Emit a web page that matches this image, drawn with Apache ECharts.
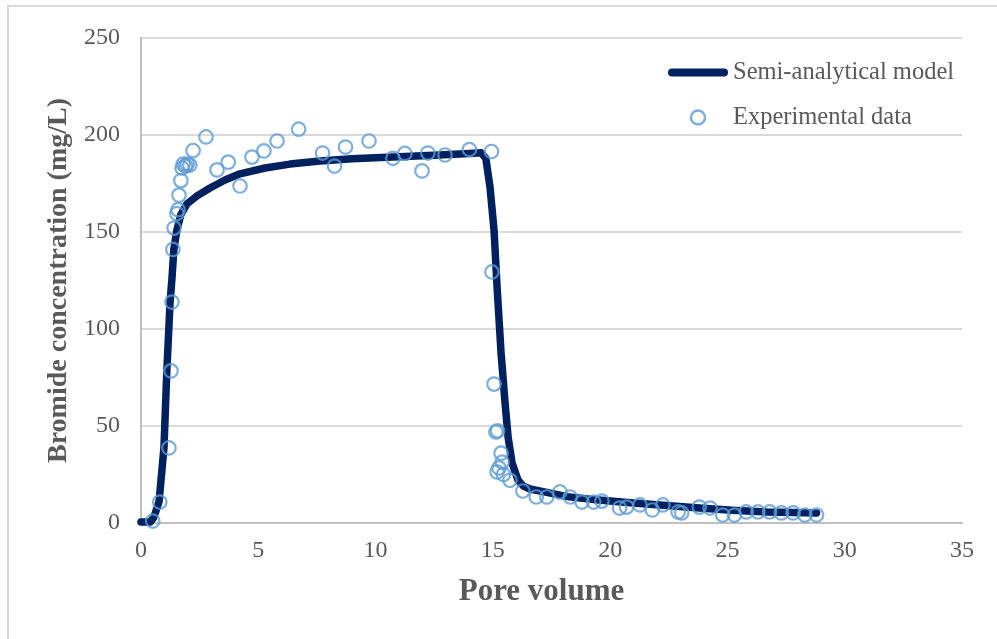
<!DOCTYPE html>
<html>
<head>
<meta charset="utf-8">
<script src="https://cdn.jsdelivr.net/npm/echarts@6/dist/echarts.min.js"></script>
<style>
html,body{margin:0;padding:0;background:#fff;}
#chart{width:997px;height:639px;}
</style>
</head>
<body>
<div id="chart"></div>
<script>
// Axis ticks
var xTicks = [0, 5, 10, 15, 20, 25, 30, 35];
var yTicks = [0, 50, 100, 150, 200, 250];

// Semi-analytical model curve
var modelX = [0, 0.4, 0.55, 0.77, 0.98, 1.1, 1.24, 1.32, 1.4, 1.53, 1.7, 1.96, 2.39, 2.94, 3.58, 4.22, 5.29, 6.35, 7.63, 9, 10.74, 12.5, 14, 14.5, 14.7, 14.88, 15.05, 15.18, 15.35, 15.52, 15.65, 15.82, 16.07, 16.3, 16.58, 17.3, 18.16, 19.5, 21, 22.4, 23.8, 25.2, 26.7, 28.8];
var modelY = [0.5, 0.5, 3, 11, 39, 78, 114, 126, 141, 151, 159, 164.5, 168.6, 172.7, 176.8, 180, 183, 185, 186.6, 187.8, 188.7, 189.6, 190.5, 190.8, 188, 173, 151, 121.6, 87.6, 61.9, 44.3, 30.9, 22.2, 19, 17.5, 15.8, 13.6, 11.8, 10.3, 9, 7.7, 6.6, 5.7, 5.2];

// Experimental data
var expX = [0.5, 0.8, 1.19, 1.28, 1.32, 1.36, 1.41, 1.53, 1.58, 1.62, 1.7, 1.75, 1.8, 1.9, 1.97, 2.08, 2.22, 2.77, 3.24, 3.72, 4.22, 4.73, 5.24, 5.8, 6.72, 7.74, 8.25, 8.72, 9.72, 10.74, 11.25, 11.98, 12.23, 12.96, 14.0, 14.94, 14.96, 15.05, 15.13, 15.2, 15.35, 15.4, 15.26, 15.18, 15.45, 15.73, 16.28, 16.85, 17.3, 17.86, 18.3, 18.8, 19.3, 19.65, 20.4, 20.7, 21.27, 21.8, 22.25, 22.9, 23.05, 23.8, 24.26, 24.8, 25.3, 25.8, 26.3, 26.8, 27.3, 27.8, 28.3, 28.8];
var expY = [1, 10.8, 38.7, 78.4, 113.9, 141, 152, 159.5, 161.5, 169, 176.5, 183, 185, 184, 185, 184.5, 192, 199, 182, 186, 173.7, 188.6, 191.8, 196.9, 203, 190.7, 184, 193.8, 196.9, 188, 190.5, 181.5, 190.7, 189.7, 192.5, 191.5, 129.4, 71.6, 46.9, 47.5, 36, 31.4, 28.4, 26.3, 25, 22, 16.5, 13.4, 13.4, 16, 13.4, 10.8, 10.8, 11.3, 7.7, 8.2, 9.3, 6.7, 9.3, 5.7, 5.2, 8.2, 7.7, 4.1, 4.1, 5.7, 5.7, 5.7, 5.2, 5.2, 4.1, 4.1];

var modelData = modelX.map(function (x, i) { return [x, modelY[i]]; });
var expData = expX.map(function (x, i) { return [x, expY[i]]; });

var FONT = '"Liberation Serif", "Times New Roman", serif';
var GRAY = '#595959';

var chart = echarts.init(document.getElementById('chart'), null, {renderer: 'canvas'});
chart.setOption({
  animation: false,
  backgroundColor: '#fff',
  graphic: [{
    type: 'rect', silent: true,
    shape: {x: 8, y: 6, width: 1100, height: 700},
    style: {fill: 'none', stroke: '#d9d9d9', lineWidth: 2}
  }],
  grid: {left: 141, right: 35, top: 38, bottom: 116, containLabel: false},
  xAxis: {
    type: 'value', min: xTicks[0], max: xTicks[xTicks.length - 1], interval: 5,
    name: 'Pore volume', nameLocation: 'middle', nameGap: 53,
    nameTextStyle: {fontFamily: FONT, fontSize: 31, fontWeight: 'bold', color: GRAY, padding: [0, 20, 0, 0]},
    axisLine: {show: true, lineStyle: {color: '#bfbfbf', width: 2}},
    axisTick: {show: false},
    splitLine: {show: false},
    axisLabel: {fontFamily: FONT, fontSize: 24, color: GRAY, margin: 16}
  },
  yAxis: {
    type: 'value', min: yTicks[0], max: yTicks[yTicks.length - 1], interval: 50,
    name: 'Bromide concentration (mg/L)', nameLocation: 'middle', nameGap: 65, nameRotate: 90,
    nameTextStyle: {fontFamily: FONT, fontSize: 28, fontWeight: 'bold', color: GRAY},
    axisLine: {show: true, lineStyle: {color: '#bfbfbf', width: 2}},
    axisTick: {show: false},
    splitLine: {show: true, lineStyle: {color: '#d9d9d9', width: 2}},
    axisLabel: {fontFamily: FONT, fontSize: 24, color: GRAY, margin: 21}
  },
  legend: {
    orient: 'vertical', left: 668, top: 60, padding: 0,
    itemWidth: 60, itemHeight: 14, itemGap: 20,
    textStyle: {fontFamily: FONT, fontSize: 24.5, color: GRAY},
    data: [
      {name: 'Semi-analytical model', icon: 'path://M4,0 L56,0 A4,4 0 0 1 56,8 L4,8 A4,4 0 0 1 4,0 Z', itemStyle: {color: '#002060', borderWidth: 0}},
      {name: 'Experimental data', icon: 'circle', itemStyle: {color: '#ffffff', borderColor: '#5B9BD5', borderWidth: 2.5}}
    ]
  },
  series: [
    {
      name: 'Semi-analytical model', type: 'line', data: modelData,
      showSymbol: false, symbol: 'none', smooth: false, z: 2,
      lineStyle: {color: '#002060', width: 7.5, cap: 'round', join: 'round'},
      itemStyle: {color: '#002060'}
    },
    {
      name: 'Experimental data', type: 'scatter', data: expData,
      symbol: 'circle', symbolSize: 13.5, z: 3,
      itemStyle: {color: 'rgba(255,255,255,0)', borderColor: '#5B9BD5', borderWidth: 2.2}
    }
  ]
});
</script>
</body>
</html>
